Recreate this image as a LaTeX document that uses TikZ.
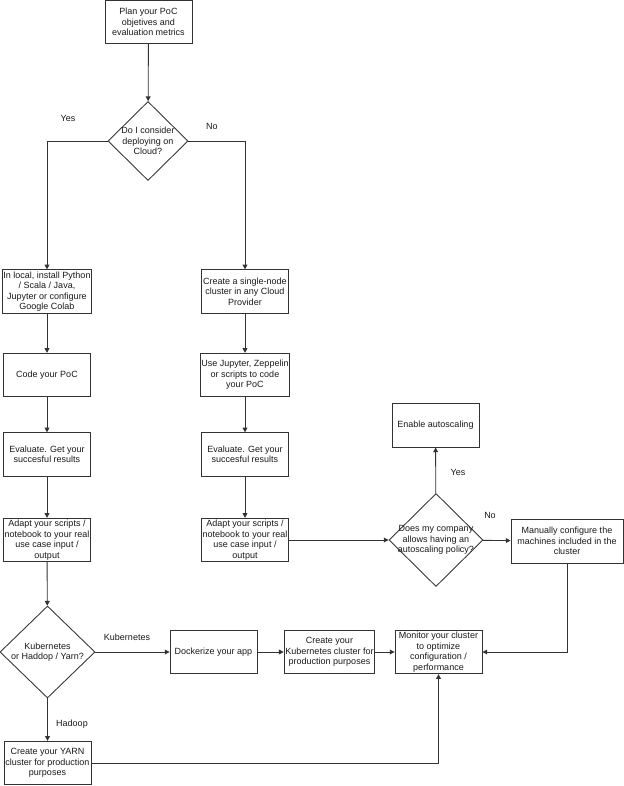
\documentclass[tikz,border=0pt]{standalone}
\usepackage{fontspec}
\setmainfont{Liberation Sans}
\usetikzlibrary{shapes.geometric,arrows.meta}
\begin{document}
\begin{tikzpicture}[x=0.75pt, y=-0.75pt, line width=0.65pt, draw=black!80,
  >={Triangle[length=3.6pt,width=3.6pt]},
  txt/.style={font=\fontsize{6.75}{7.9}\selectfont, align=center, text=black!90},
  box/.style={draw, rectangle, txt, inner sep=1pt, minimum width=65.25pt, minimum height=32.5pt},
  decision/.style={draw, diamond, inner sep=0pt},
  lbl/.style={txt, inner sep=0pt}]
\useasboundingbox (0,0) rectangle (624,786);
\node[box] (plan) at (148.5,22) {Plan your PoC\\objetives and\\evaluation metrics};
\node[decision, minimum width=60pt, minimum height=59.25pt,
  label={[txt]center:Do I consider\\deploying on\\Cloud?}] (cloudq) at (148,141) {};
\node[box] (local) at (47,291.5) {In local, install Python\\/ Scala / Java,\\Jupyter or configure\\Google Colab};
\node[box] (single) at (245,291.5) {Create a single-node\\cluster in any Cloud\\Provider};
\node[box] (codel) at (47,375) {Code your PoC};
\node[box] (coder) at (245,375) {Use Jupyter, Zeppelin\\or scripts to code\\your PoC};
\node[box] (evall) at (47,454.5) {Evaluate. Get your\\succesful results};
\node[box] (evalr) at (245,454.5) {Evaluate. Get your\\succesful results};
\node[box] (adaptl) at (47,540) {Adapt your scripts /\\notebook to your real\\use case input /\\output};
\node[box] (adaptr) at (245,540) {Adapt your scripts /\\notebook to your real\\use case input /\\output};
\node[box, minimum height=33pt] (enable) at (435.5,425) {Enable autoscaling};
\node[decision, minimum width=70.5pt, minimum height=69.75pt,
  label={[txt]center:Does my company\\allows having an\\autoscaling policy?}] (autoq) at (436,540) {};
\node[box, minimum width=84pt, minimum height=33pt] (manual) at (567,541) {Manually configure the\\machines included in the\\cluster};
\node[decision, minimum width=71.25pt, minimum height=69pt,
  label={[txt]center:Kubernetes\\or Haddop / Yarn?}] (platq) at (47.5,652) {};
\node[box] (docker) at (213.5,652) {Dockerize your app};
\node[box] (kube) at (329.5,652) {Create your\\Kubernetes cluster for\\production purposes};
\node[box] (monitor) at (438.5,652) {Monitor your cluster\\to optimize\\configuration /\\performance};
\node[box] (yarn) at (47.5,763) {Create your YARN\\cluster for production\\purposes};
\node[lbl] (yes1) at (68,118) {Yes};
\node[lbl] (no1) at (212,126) {No};
\node[lbl] (yes2) at (458,472) {Yes};
\node[lbl] (no2) at (490,515) {No};
\node[lbl] (kubelbl) at (127,637) {Kubernetes};
\node[lbl] (hadooplbl) at (72,724) {Hadoop};
\draw[->] (cloudq.west) -| (local.north);
\draw[->] (cloudq.east) -| (single.north);
\foreach \a/\b in {plan/cloudq, local/codel, codel/evall, evall/adaptl, adaptl/platq,
  single/coder, coder/evalr, evalr/adaptr, adaptr/autoq, autoq/enable, autoq/manual,
  platq/docker, docker/kube, kube/monitor, platq/yarn}
  \draw[->] (\a) -- (\b);
\draw[->] (manual.south) |- (monitor.east);
\draw[->] (yarn.east) -| (monitor.south);
\end{tikzpicture}
\end{document}
